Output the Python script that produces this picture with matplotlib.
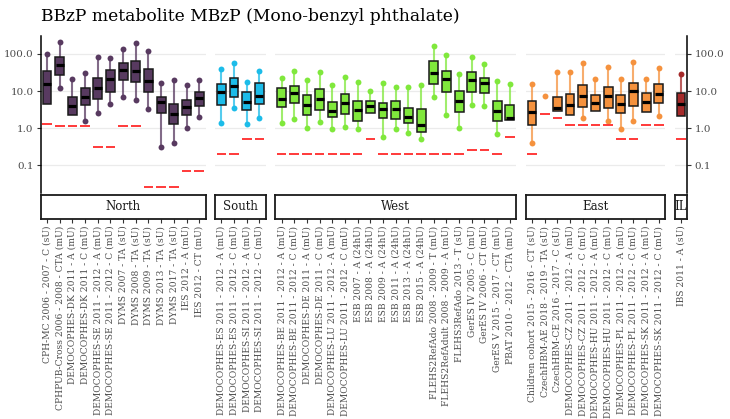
import matplotlib.pyplot as plt
import numpy as np

plt.rcParams['font.family'] = 'DejaVu Serif'

# Data (urinary MBzP, P5 / P25 / P50 / P75 / P95 and LOD per study)
studies = [
    "CPH-MC 2006 - 2007 - C (sU)", "CPHPUB-Cross 2006 - 2008 - CTA (mU)",
    "DEMOCOPHES-DK 2011 - A (mU)", "DEMOCOPHES-DK 2011 - C (mU)",
    "DEMOCOPHES-SE 2011 - 2012 - A (mU)", "DEMOCOPHES-SE 2011 - 2012 - C (mU)",
    "DYMS 2007 - TA (sU)", "DYMS 2008 - TA (sU)", "DYMS 2009 - TA (sU)",
    "DYMS 2013 - TA (sU)", "DYMS 2017 - TA (sU)", "IES 2012 - A (mU)", "IES 2012 - CT (mU)",
    "DEMOCOPHES-ES 2011 - 2012 - A (mU)", "DEMOCOPHES-ES 2011 - 2012 - C (mU)",
    "DEMOCOPHES-SI 2011 - 2012 - A (mU)", "DEMOCOPHES-SI 2011 - 2012 - C (mU)",
    "DEMOCOPHES-BE 2011 - 2012 - A (mU)", "DEMOCOPHES-BE 2011 - 2012 - C (mU)",
    "DEMOCOPHES-DE 2011 - A (mU)", "DEMOCOPHES-DE 2011 - C (mU)",
    "DEMOCOPHES-LU 2011 - 2012 - A (mU)", "DEMOCOPHES-LU 2011 - 2012 - C (mU)",
    "ESB 2007 - A (24hU)", "ESB 2008 - A (24hU)", "ESB 2009 - A (24hU)",
    "ESB 2011 - A (24hU)", "ESB 2013 - A (24hU)", "ESB 2015 - A (24hU)",
    "FLEHS2RefAdo 2008 - 2009 - T (mU)", "FLEHS2RefAdult 2008 - 2009 - A (mU)",
    "FLEHS3RefAdo 2013 - T (sU)", "GerES IV 2005 - C (mU)", "GerES IV 2006 - CT (mU)",
    "GerES V 2015 - 2017 - CT (mU)", "PBAT 2010 - 2012 - CTA (mU)",
    "Children cohort 2015 - 2016 - CT (sU)", "CzechHBM-AE 2018 - 2019 - TA (sU)",
    "CzechHBM-CE 2016 - 2017 - C (sU)",
    "DEMOCOPHES-CZ 2011 - 2012 - A (mU)", "DEMOCOPHES-CZ 2011 - 2012 - C (mU)",
    "DEMOCOPHES-HU 2011 - 2012 - A (mU)", "DEMOCOPHES-HU 2011 - 2012 - C (mU)",
    "DEMOCOPHES-PL 2011 - 2012 - A (mU)", "DEMOCOPHES-PL 2011 - 2012 - C (mU)",
    "DEMOCOPHES-SK 2011 - 2012 - A (mU)", "DEMOCOPHES-SK 2011 - 2012 - C (mU)",
    "IBS 2011 - A (sU)",
]
region = (["North"] * 13 + ["South"] * 4 + ["West"] * 19 + ["East"] * 11 + ["IL"] * 1)

nan = np.nan
p_low = [nan, 11.9, nan, 1.6, 2.6, 4.6, 6.8, 5.75, 3.2, 0.32, 0.39, 1.03, 2.05,
         1.36, 3.5, 1.28, 1.86,
         1.42, 1.79, 1.04, 1.48, 0.98, 1.09, 0.98, nan, 0.58, 0.98, 0.72, 0.5,
         6.75, 2.2, 1.04, 4.3, 3.85, 0.69, nan,
         0.4, nan, nan, nan, 1.9, nan, 1.58, 0.96, 1.61, nan, 2.07,
         nan]
p25 = [4.4, 27, 2.27, 4.2, 6.0, 9.5, 20, 18, 9.3, 2.6, 1.27, 2.2, 4.0,
       4.2, 7.0, 3.1, 4.45,
       3.8, 4.85, 2.25, 3.1, 1.98, 2.4, 1.61, 2.49, 1.94, 1.82, 1.39, 0.8,
       15.5, 9.2, 2.76, 9.4, 8.65, 1.61, 1.71,
       1.23, nan, 2.94, 2.25, 3.8, 2.82, 3.4, 2.49, 3.93, 2.7, 4.65,
       2.15]
p50 = [15.5, 50.5, 4.0, 7.1, 12.4, 21.6, 38, 35.5, 18.3, 5.0, 2.4, 3.65, 6.65,
       9.6, 13.6, 5.05, 7.6,
       6.3, 8.65, 4.2, 6.1, 2.88, 4.65, 3.06, 3.93, 3.2, 3.27, 2.02, 1.2,
       30, 21, 5.5, 19.8, 16.8, 2.94, 1.94,
       2.7, nan, 3.4, 4.2, 7.6, 4.85, 7.3, 4.45, 9.8, 5.15, 8.3,
       4.45]
p75 = [35, 85, 6.9, 11.9, 23, 36, 58, 63, 39, 7.1, 4.4, 5.75, 9.5,
       15.8, 23, 9.2, 16.8,
       11.8, 14, 7.8, 11.3, 5.15, 8.3, 5.5, 5.5, 4.65, 5.25, 3.55, 3.27,
       66, 35.5, 10.2, 33, 23, 5.5, 4.3,
       5.5, nan, 6.9, 8.3, 14.2, 7.8, 12.8, 7.8, 16.8, 8.65, 15.1,
       8.65]
p_high = [100, 206, 21.6, 31.4, 85, 80, 134, 194, 123, 16.2, 20.3, 14.3, 20,
          39, 58, 17.5, 34,
          22, 34, 19.8, 33, 14.2, 24.4, 17.1, 10.2, 16.8, 13.1, 13.1, 14.2,
          168, 96, 29.4, 84, 55, 18.3, 15.8,
          15.1, 7.2, 32.6, 32.6, 56, 21.5, 44.6, 21, 61, 21, 42,
          28.2]
lod = [1.3, 1.15, 1.15, 1.15, 0.32, 0.32, 1.15, 1.15, 0.0265, 0.0265, 0.0265, 0.072, 0.072,
       0.2, 0.2, 0.5, 0.5,
       0.2, 0.2, 0.2, 0.2, 0.2, 0.2, 0.2, 0.5, 0.2, 0.2, 0.2, 0.2,
       0.2, 0.2, 0.2, 0.265, 0.265, 0.2, 0.58,
       0.2, 2.34, 1.9, 1.2, 1.2, 1.2, 1.2, 0.5, 0.5, 1.2, 1.2,
       0.5]

regions = ["North", "South", "West", "East", "IL"]
region_colors = ["#583a60", "#1cbce9", "#80e83c", "#f5923e", "#a52a2a"]

# layout in pixels
W, H = 730, 419
unit = 12.68
gap = 9.5
x_left = 40.7
top, bottom = 36, 193.3
strip_top, strip_bottom = 194.7, 218.7
ymin, ymax = 10 ** -1.755, 10 ** 2.485

region = np.array(region)
p_low, p25, p50, p75, p_high, lod = [np.array(a, dtype=float) for a in (p_low, p25, p50, p75, p_high, lod)]
studies = np.array(studies)

fig = plt.figure(figsize=(W / 100, H / 100), dpi=100)
fig.text(x_left / W, 1 - 21 / H, "BBzP metabolite MBzP (Mono-benzyl phthalate)",
         fontsize=12.3, ha='left', va='baseline', color='black')

x = x_left
for k, (reg, col) in enumerate(zip(regions, region_colors)):
    idx = np.where(region == reg)[0]
    n = len(idx)
    w = n * unit
    ax = fig.add_axes([x / W, 1 - bottom / H, w / W, (bottom - top) / H])
    sax = fig.add_axes([x / W, 1 - strip_bottom / H, w / W, (strip_bottom - strip_top) / H])
    xs = np.arange(n)

    lo, q1, md, q3, hi, ld = p_low[idx], p25[idx], p50[idx], p75[idx], p_high[idx], lod[idx]

    # whiskers
    line_lo = np.where(np.isnan(lo), q1, lo)
    ok = ~np.isnan(line_lo)
    ax.vlines(xs[ok], line_lo[ok], hi[ok], color=col, lw=1.5, alpha=0.75, zorder=2)
    ax.scatter(xs, hi, s=18, color=col, zorder=3, linewidths=0)
    ax.scatter(xs, lo, s=18, color=col, zorder=3, linewidths=0)

    # boxes
    has_box = ~np.isnan(q1)
    ax.bar(xs[has_box], q3[has_box] - q1[has_box], bottom=q1[has_box], width=0.7,
           color=col, edgecolor='#1a1a1a', linewidth=1.1, zorder=4)
    ax.hlines(md[has_box], xs[has_box] - 0.32, xs[has_box] + 0.32, color='black',
              lw=2.3, zorder=5)

    # limit of detection
    ax.hlines(ld, xs - 0.38, xs + 0.38, color='#ff2a2a', lw=1.3, zorder=3)

    ax.set_yscale('log')
    ax.set_ylim(ymin, ymax)
    ax.set_xlim(-0.5, n - 0.5)
    ax.set_xticks([])
    ax.set_yticks([0.1, 1, 10, 100])
    ax.set_yticks([], minor=True)
    ax.set_yticklabels(["0.1", "1.0", "10.0", "100.0"])
    ax.grid(axis='y', color='#ebebeb', lw=0.9, zorder=0)
    ax.set_axisbelow(True)
    for s in ax.spines.values():
        s.set_visible(False)
    ax.tick_params(axis='y', length=3, width=0.8, color='#333333',
                   labelsize=7.5, labelcolor='#4d4d4d', pad=2)
    if k == 0:
        ax.spines['left'].set_visible(True)
        ax.spines['left'].set_linewidth(1.1)
    elif k == len(regions) - 1:
        ax.spines['right'].set_visible(True)
        ax.spines['right'].set_linewidth(1.1)
        ax.yaxis.tick_right()
    else:
        ax.tick_params(axis='y', left=False, labelleft=False)

    # strip with study labels below
    sax.set_xlim(-0.5, n - 0.5)
    sax.set_ylim(0, 1)
    sax.set_yticks([])
    sax.set_xticks(xs)
    sax.set_xticklabels(studies[idx], rotation=90, fontsize=6.6, color='#4d4d4d')
    sax.tick_params(axis='x', length=3, width=0.8, color='#333333', pad=2)
    for s in sax.spines.values():
        s.set_linewidth(1.3)
        s.set_color('#1a1a1a')
    sax.text(0.5, 0.5, reg, transform=sax.transAxes, ha='center', va='center',
             fontsize=8.5, color='#1a1a1a', clip_on=True)

    x += w + gap

fig.savefig("out.png", dpi=100)
